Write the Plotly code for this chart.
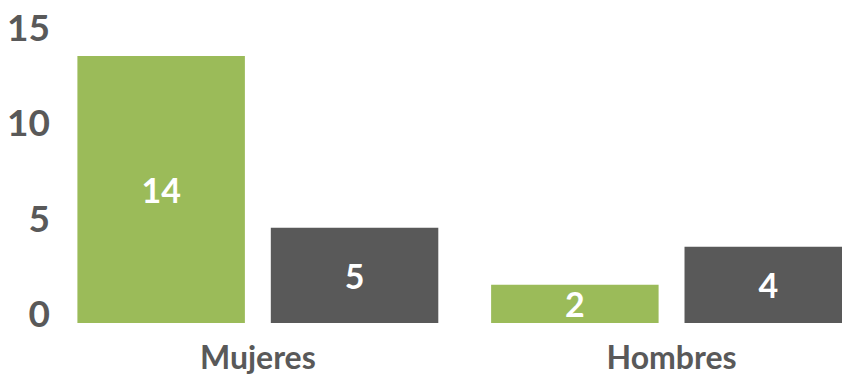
import plotly.graph_objects as go

# Data
categories = ["Mujeres", "Hombres"]
serie_verde = [14, 2]
serie_gris = [5, 4]
y_ticks = [0, 5, 10, 15]

GREEN = "#9BBB59"
DARK = "#595959"
FONT = "Lato"

fig = go.Figure()
for vals, color in [(serie_verde, GREEN), (serie_gris, DARK)]:
    fig.add_trace(go.Bar(
        x=categories,
        y=vals,
        marker=dict(color=color, line=dict(width=0)),
        text=[str(v) for v in vals],
        textposition="inside",
        insidetextanchor="middle",
        constraintext="none",
        textangle=0,
        insidetextfont=dict(family=FONT, size=34, color="white", weight="bold"),
        showlegend=False,
        hoverinfo="skip",
    ))

fig.update_layout(
    width=842,
    height=377,
    margin=dict(l=51, r=0, t=37, b=54),
    paper_bgcolor="white",
    plot_bgcolor="white",
    barmode="group",
    bargap=0.065,
    bargroupgap=0.134,
    xaxis=dict(
        type="category",
        range=[-0.5, 1.412],
        showgrid=False,
        showline=False,
        zeroline=False,
        ticks="",
        tickfont=dict(family=FONT, size=32, color=DARK, weight="bold"),
        ticklabelstandoff=13,
    ),
    yaxis=dict(
        range=[0, 15],
        tickvals=y_ticks,
        ticktext=[str(t) for t in y_ticks],
        showgrid=False,
        showline=False,
        zeroline=False,
        ticks="",
        tickfont=dict(family=FONT, size=37, color=DARK, weight="bold"),
        ticklabelstandoff=0,
        ticklabelshift=-9,
    ),
)

fig.write_html("out.html")
